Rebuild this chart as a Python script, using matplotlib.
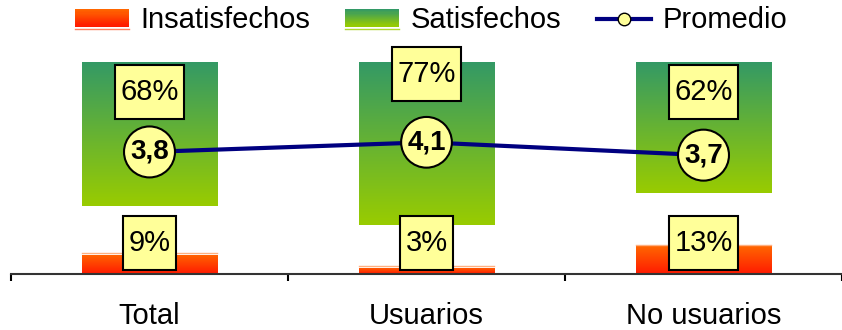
import numpy as np
import matplotlib.pyplot as plt
from matplotlib.colors import LinearSegmentedColormap
from matplotlib.path import Path
from matplotlib.lines import Line2D
from matplotlib.patches import Patch, Rectangle
from matplotlib.legend_handler import HandlerBase

# data
categories = ['Total', 'Usuarios', 'No usuarios']
insatisfechos = [9, 3, 13]
satisfechos = [68, 77, 62]
promedio = [3.8, 4.1, 3.7]
# label positions (in % of the axis) for the data labels
sat_label_y = [85.8, 94.3, 85.8]
ins_label_y = [14.6, 14.6, 14.6]

plt.rcParams['font.family'] = ['Liberation Sans', 'DejaVu Sans']

green = LinearSegmentedColormap.from_list('green', ['#99CC00', '#339966'])
orange = LinearSegmentedColormap.from_list('orange', ['#FF1A00', '#FF6600'])

fig = plt.figure(figsize=(8.42, 3.30), dpi=100)
ax = fig.add_axes([11/842, 56/330, 831/842, 212/330])
x = np.arange(len(categories))
w = 0.49


def gradient_fill(bar, cmap):
    x0, y0 = bar.get_x(), bar.get_y()
    x1, y1 = x0 + bar.get_width(), y0 + bar.get_height()
    grad = np.linspace(0, 1, 256).reshape(-1, 1)
    im = ax.imshow(grad, cmap=cmap, extent=[x0, x1, y0, y1], origin='lower',
                   aspect='auto', zorder=1)
    im.set_clip_path(bar)


def label_box(x0, y0, width, height, mutation_size):
    px = 0.18 * mutation_size
    py = 0.45 * mutation_size
    verts = [(x0 - px, y0 - py), (x0 + width + px, y0 - py),
             (x0 + width + px, y0 + height + py), (x0 - px, y0 + height + py),
             (x0 - px, y0 - py)]
    return Path(verts, closed=True)


class GradientHandler(HandlerBase):
    # legend key drawn as stacked stripes to fake the gradient
    def __init__(self, cmap, under):
        super().__init__()
        self.cmap = cmap
        self.under = under

    def create_artists(self, legend, orig_handle, xdescent, ydescent,
                       width, height, fontsize, trans):
        n = 16
        arts = []
        for i in range(n):
            arts.append(Rectangle((-xdescent, -ydescent + i * height / n), width,
                                  height / n + 0.3, facecolor=self.cmap(i / (n - 1)),
                                  edgecolor='none', transform=trans))
        arts.append(Line2D([-xdescent, -xdescent + width], [-ydescent - 2] * 2,
                           color=self.under, lw=1, transform=trans))
        return arts


sat_bars = ax.bar(x, satisfechos, w, bottom=[100 - s for s in satisfechos],
                  color='none', edgecolor='none', zorder=1)
ins_bars = ax.bar(x, insatisfechos, w, color='none', edgecolor='none', zorder=1)
for b in sat_bars:
    gradient_fill(b, green)
for b in ins_bars:
    gradient_fill(b, orange)
    ax.plot([b.get_x(), b.get_x() + w], [b.get_height() + 0.8] * 2,
            color='#FFB080', lw=1, zorder=1)

box = dict(boxstyle=label_box, fc='#FFFF99', ec='black', lw=1.5)
for xi, s, ly in zip(x, satisfechos, sat_label_y):
    ax.text(xi, ly, f'{s}%', ha='center', va='center', fontsize=21, bbox=box, zorder=3)
for xi, s, ly in zip(x, insatisfechos, ins_label_y):
    ax.text(xi, ly, f'{s}%', ha='center', va='center', fontsize=21, bbox=box, zorder=3)

ax.set_xlim(-0.5, -0.5 + 831/279)
ax.set_ylim(0, 100)
ax.set_yticks([])
ax.set_xticks(x, categories)
ax.set_xticks([-0.5, 0.5, 1.5, 2.5], minor=True)
ax.tick_params(axis='x', which='major', length=0, pad=20.5, labelsize=21)
ax.tick_params(axis='x', which='minor', length=5, width=1.5, direction='out')
for sp in ['left', 'right', 'top']:
    ax.spines[sp].set_visible(False)
ax.spines['bottom'].set_linewidth(1.5)
ax.spines['bottom'].set_color('#333333')

ax2 = ax.twinx()
ax2.set_ylim(0, 6.6)
ax2.axis('off')
ax2.plot(x, promedio, color='#000080', lw=3, zorder=2)
for xi, p in zip(x, promedio):
    ax2.text(xi, p, f'{p:.1f}'.replace('.', ','), ha='center', va='center',
             fontsize=20, fontweight='bold', zorder=3,
             bbox=dict(boxstyle='circle,pad=0.22', fc='#FFFF99', ec='black', lw=1.5))

h_ins = Patch(facecolor='#FF4400')
h_sat = Patch(facecolor='#5AA848')
h_prom = Line2D([0], [0], color='#000080', lw=3, marker='o', markersize=9,
                markerfacecolor='#FFFF99', markeredgecolor='black')
fig.legend([h_ins, h_sat, h_prom], ['Insatisfechos', 'Satisfechos', 'Promedio'],
           handler_map={h_ins: GradientHandler(orange, '#FF8060'),
                        h_sat: GradientHandler(green, '#B0D830')},
           loc='upper center', bbox_to_anchor=(431/842, 0.99), ncol=3,
           frameon=False, fontsize=21, handlelength=1.85, handleheight=0.55,
           handletextpad=0.4, columnspacing=1.2, borderaxespad=0, borderpad=0.1)

fig.savefig('out.png', dpi=100)
